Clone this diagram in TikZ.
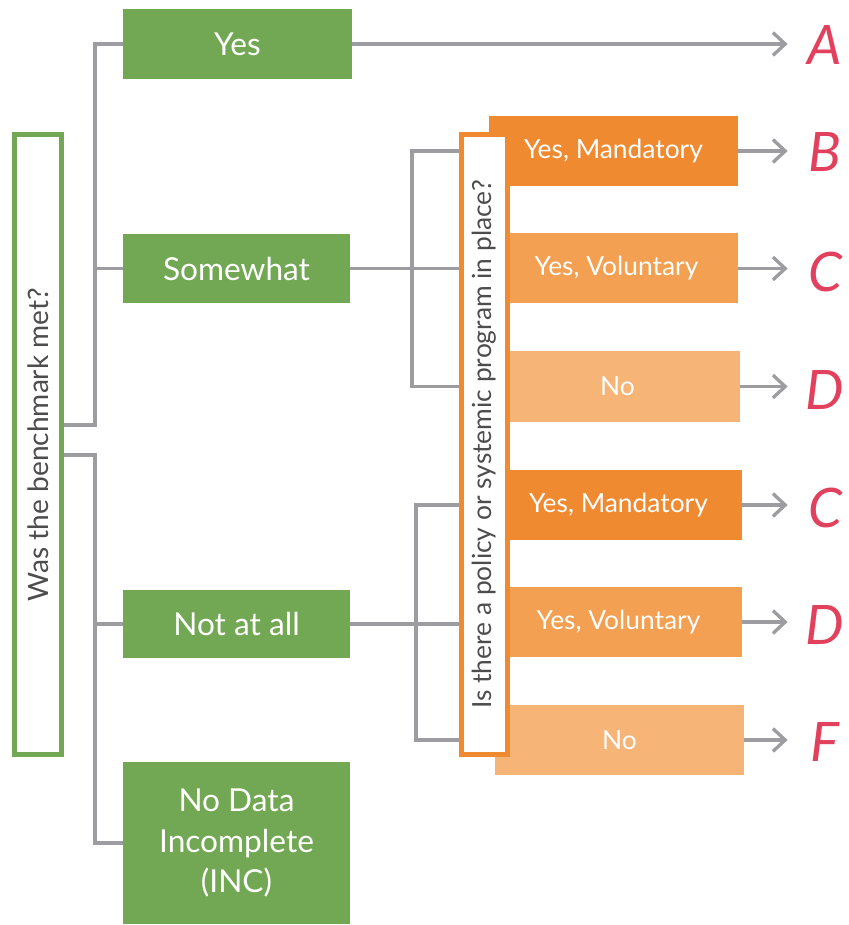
\documentclass[tikz,border=0pt]{standalone}
\usepackage{fontspec}
\setmainfont{Lato}
\usetikzlibrary{arrows.meta}
\definecolor{benchgreen}{HTML}{72A854}
\definecolor{orangedark}{HTML}{F08A30}
\definecolor{orangemid}{HTML}{F4A052}
\definecolor{orangelight}{HTML}{F6B477}
\definecolor{linkgray}{HTML}{9D9DA1}
\definecolor{askgray}{HTML}{4D4D4D}
\definecolor{gradered}{HTML}{E2415E}
\tikzset{
	decision tree/.cd,
	link/.style = {
		draw = linkgray,
		line width = 1.9pt
	},
	tip/.style = {
		decision tree/link,
		-{Straight Barb[length = 7pt, width = 13pt]}
	},
	question/.style = {
		draw = #1,
		fill = white,
		line width = 2.8pt,
		inner sep = 0pt
	},
	ask/.style = {
		text = askgray,
		inner sep = 0pt
	},
}

\begin{document}
\begin{tikzpicture}[
		x = 0.02cm, y = -0.02cm,
		answer/.style = {
			fill = benchgreen,
			text = white,
			font = \fontsize{18}{23}\selectfont,
			align = center,
			inner sep = 0pt
		},
		policybox/.style = {
			text = white,
			font = \fontsize{15}{18}\selectfont,
			inner sep = 0pt
		},
		grade/.style = {
			text = gradered,
			font = \fontsize{31}{31}\selectfont\itshape,
			minimum width = 70*\pix,
			inner sep = 0pt
		}]
		\def\pix{0.02cm}
		\useasboundingbox (0, 0) rectangle (848, 925);
		% first question with its four answers
		\node[decision tree/question = benchgreen, minimum width = 47*\pix, minimum height = 620*\pix,
			label = {[rotate = 90, decision tree/ask, font = \fontsize{16}{18}\selectfont]center:Was the benchmark met?}] (met) at (38, 444.5) {};
		\node[answer, minimum width = 229*\pix, minimum height = 70*\pix] (yes) at (237.5, 44) {Yes};
		\node[answer, minimum width = 227*\pix, minimum height = 69*\pix] (somewhat) at (236.5, 268.5) {Somewhat};
		\node[answer, minimum width = 227*\pix, minimum height = 68*\pix] (notatall) at (236.5, 624) {Not at all};
		\node[answer, minimum width = 227*\pix, minimum height = 162*\pix] (nodata) at (236.5, 843) {No Data\\Incomplete\\(INC)};
		% policy answers, the question box sits on top of them
		\foreach \name/\x/\y/\w/\shade/\txt in {
			mandA/613.5/151/249/orangedark/{Yes, Mandatory},
			volA/616.5/268.5/243/orangemid/{Yes, Voluntary},
			noA/617.5/386.5/245/orangelight/No,
			mandB/618.5/505/247/orangedark/{Yes, Mandatory},
			volB/618.5/622/247/orangemid/{Yes, Voluntary},
			noB/619.5/740/249/orangelight/No}{
			\node[policybox, fill = \shade, minimum width = \w*\pix, minimum height = 70*\pix] (\name) at (\x, \y) {\txt};
		}
		\node[decision tree/question = orangedark, minimum width = 46*\pix, minimum height = 620*\pix,
			label = {[rotate = 90, decision tree/ask, font = \fontsize{15}{18}\selectfont]center:Is there a policy or systemic program in place?}] (policy) at (484.5, 444.5) {};
		% grades
		\node[grade] (gradeA) at (825, 45) {A};
		\node[grade] (gradeB) at (825, 152) {B};
		\node[grade] (gradeC) at (825, 272) {C};
		\node[grade] (gradeD) at (825, 390) {D};
		\node[grade] (gradeCC) at (825, 508) {C};
		\node[grade] (gradeDD) at (825, 625) {D};
		\node[grade] (gradeF) at (825, 742) {F};
		% tree on the left
		\coordinate (upfork) at (95, 425);
		\coordinate (downfork) at (95, 455);
		\draw[decision tree/link] (met.east |- upfork) -- (upfork) |- (yes.west);
		\draw[decision tree/link] (upfork |- somewhat) -- (somewhat.west);
		\draw[decision tree/link] (met.east |- downfork) -- (downfork) |- (nodata.west);
		\draw[decision tree/link] (downfork |- notatall) -- (notatall.west);
		% brackets into the policy question
		\coordinate (upbrace) at (412, 268.5);
		\coordinate (downbrace) at (416, 624);
		\draw[decision tree/link] (somewhat.east) -- (policy.west |- somewhat.east);
		\draw[decision tree/link] (policy.west |- mandA) -| (upbrace) |- (policy.west |- noA);
		\draw[decision tree/link] (notatall.east) -- (policy.west |- notatall.east);
		\draw[decision tree/link] (policy.west |- mandB) -| (downbrace) |- (policy.west |- noB);
		% arrows to the grades
		\foreach \from/\to in {yes/gradeA, mandA/gradeB, volA/gradeC, noA/gradeD, mandB/gradeCC, volB/gradeDD, noB/gradeF}{
			\draw[decision tree/tip] (\from.east) -- ([xshift = -2*\pix]\from.east -| \to.west);
		}
	\end{tikzpicture}
\end{document}
